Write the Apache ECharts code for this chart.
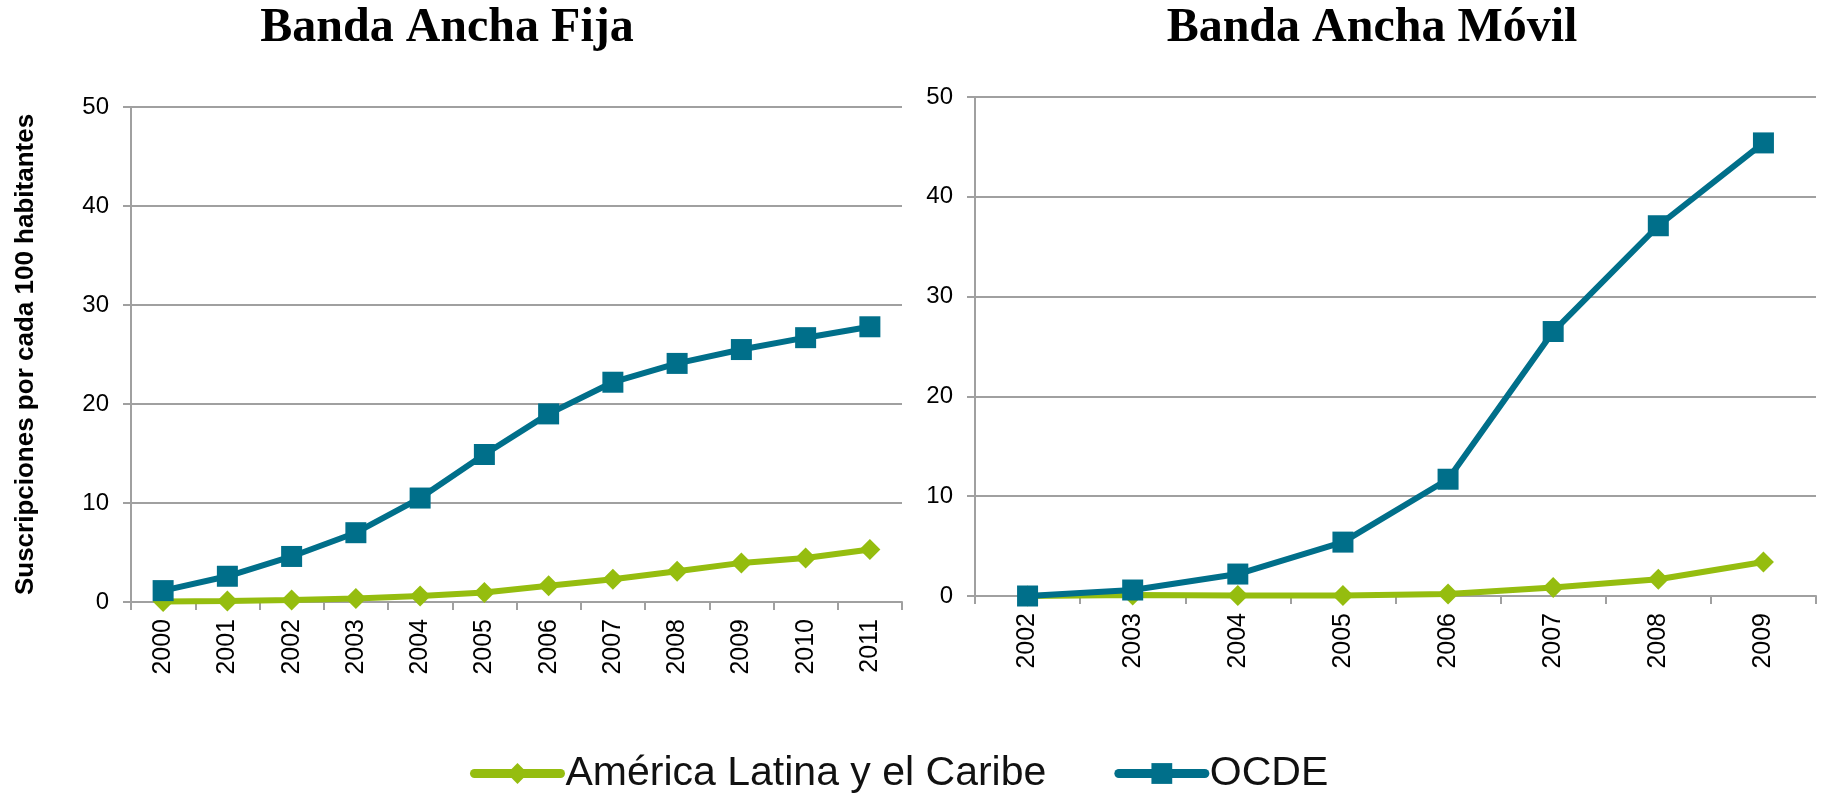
<!DOCTYPE html>
<html>
<head>
<meta charset="utf-8">
<script src="https://cdn.jsdelivr.net/npm/echarts@6/dist/echarts.min.js"></script>
<style>
html,body{margin:0;padding:0;background:#fff;}
#chart{width:1822px;height:796px;}
</style>
</head>
<body>
<div id="chart"></div>
<script>
// ---- data ----
const titleFija = 'Banda Ancha Fija';
const titleMovil = 'Banda Ancha Móvil';
const yAxisName = 'Suscripciones por cada 100 habitantes';
const seriesNames = ['América Latina y el Caribe', 'OCDE'];

const yearsFija = ['2000','2001','2002','2003','2004','2005','2006','2007','2008','2009','2010','2011'];
const fijaALC  = [0.05, 0.1, 0.2, 0.35, 0.6, 0.95, 1.65, 2.3, 3.1, 3.95, 4.45, 5.3];
const fijaOCDE = [1.15, 2.6, 4.6, 7.0, 10.5, 14.9, 19.0, 22.2, 24.1, 25.5, 26.7, 27.8];

const yearsMovil = ['2002','2003','2004','2005','2006','2007','2008','2009'];
const movilALC  = [0, 0.1, 0.05, 0.05, 0.2, 0.85, 1.67, 3.4];
const movilOCDE = [0, 0.6, 2.2, 5.4, 11.7, 26.5, 37.1, 45.4];

const yMin = 0, yMax = 50, yInterval = 10;

// ---- style ----
const cGreen = '#95bd0f';
const cTeal = '#006f8a';
const cGrid = '#a0a0a0';
const tickFont = 'Liberation Sans, Arial, sans-serif';

function xAxis(idx, data) {
  return {
    type: 'category', gridIndex: idx, data: data, boundaryGap: true,
    axisLine: {show: true, lineStyle: {color: cGrid, width: 2}},
    axisTick: {show: true, length: 8, lineStyle: {color: cGrid, width: 2}},
    axisLabel: {rotate: 90, margin: 17, fontSize: 25, color: '#000', fontFamily: tickFont},
    splitLine: {show: false}
  };
}
function yAxis(idx, withName) {
  const a = {
    type: 'value', gridIndex: idx, min: yMin, max: yMax, interval: yInterval,
    axisLine: {show: true, lineStyle: {color: cGrid, width: 2}},
    axisTick: {show: true, length: 8, lineStyle: {color: cGrid, width: 2}},
    axisLabel: {margin: 22, fontSize: 24, color: '#000', fontFamily: tickFont},
    splitLine: {show: true, lineStyle: {color: cGrid, width: 2}}
  };
  if (withName) {
    a.name = yAxisName;
    a.nameLocation = 'middle';
    a.nameGap = 92;
    a.nameTextStyle = {fontSize: 26, fontWeight: 'bold', color: '#000', fontFamily: tickFont};
  }
  return a;
}
function lineSeries(name, xi, data, color, symbol) {
  return {
    name: name, type: 'line', xAxisIndex: xi, yAxisIndex: xi, data: data,
    symbol: symbol, symbolSize: 21, showAllSymbol: true,
    lineStyle: {color: color, width: 6},
    itemStyle: {color: color},
    animation: false
  };
}

const chart = echarts.init(document.getElementById('chart'), null, {renderer: 'canvas'});
chart.setOption({
  backgroundColor: '#fff',
  animation: false,
  title: [
    {text: titleFija, left: 447, top: 5, padding: 0, textAlign: 'center',
     textStyle: {fontSize: 48, fontWeight: 'bold', color: '#000', fontFamily: 'Liberation Serif, DejaVu Serif, serif'}},
    {text: titleMovil, left: 1372, top: 5, padding: 0, textAlign: 'center',
     textStyle: {fontSize: 48, fontWeight: 'bold', color: '#000', fontFamily: 'Liberation Serif, DejaVu Serif, serif'}}
  ],
  legend: {
    data: seriesNames, left: 470, top: 753, padding: 0,
    itemWidth: 86, itemHeight: 26, itemGap: 68,
    lineStyle: {width: 9, cap: 'round'},
    textStyle: {fontSize: 41, color: '#111', fontFamily: tickFont}
  },
  grid: [
    {left: 131, top: 107, width: 771, height: 495, containLabel: false, outerBoundsMode: 'none'},
    {left: 975, top: 97, width: 841, height: 499, containLabel: false, outerBoundsMode: 'none'}
  ],
  xAxis: [xAxis(0, yearsFija), xAxis(1, yearsMovil)],
  yAxis: [yAxis(0, true), yAxis(1, false)],
  series: [
    lineSeries(seriesNames[0], 0, fijaALC, cGreen, 'diamond'),
    lineSeries(seriesNames[1], 0, fijaOCDE, cTeal, 'rect'),
    lineSeries(seriesNames[0], 1, movilALC, cGreen, 'diamond'),
    lineSeries(seriesNames[1], 1, movilOCDE, cTeal, 'rect')
  ]
});
</script>
</body>
</html>
